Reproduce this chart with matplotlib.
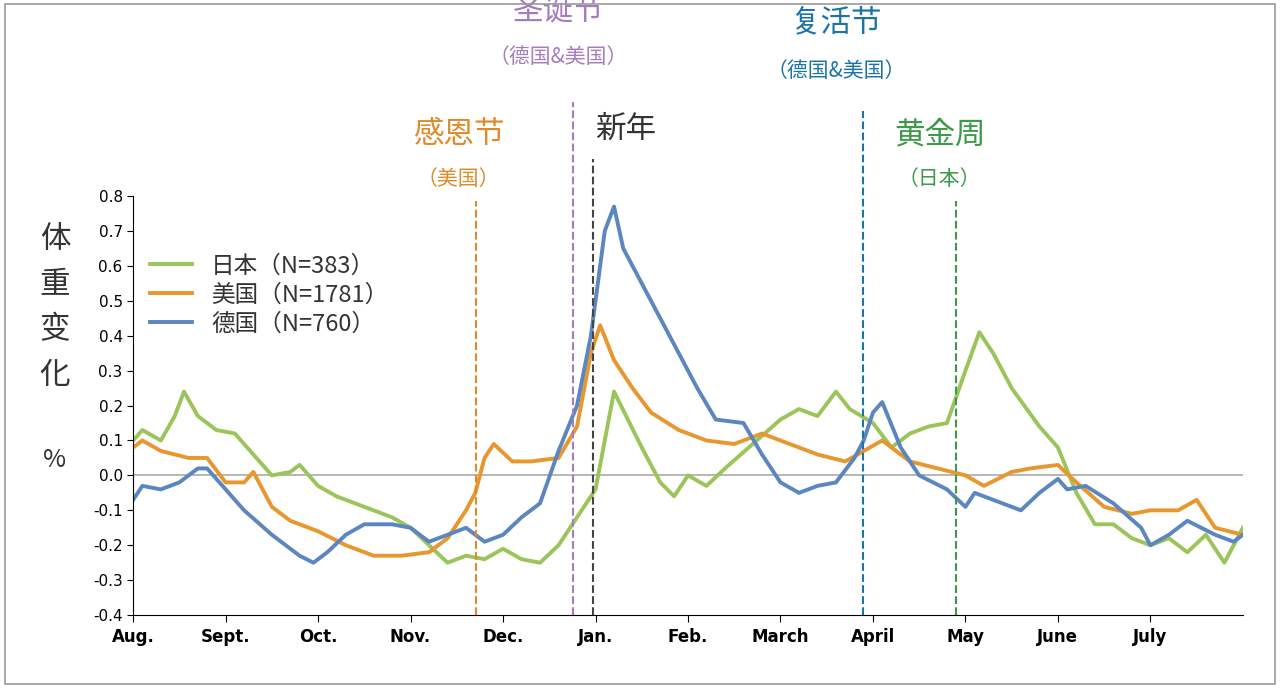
import matplotlib
matplotlib.use("Agg")
import matplotlib.pyplot as plt
from matplotlib.patches import Rectangle
from matplotlib import font_manager

names = sorted({f.name for f in font_manager.fontManager.ttflist})
cjk = [n for n in ['Noto Sans CJK SC', 'Noto Sans CJK JP', 'Noto Sans CJK TC', 'Noto Sans CJK KR'] if n in names]
if not cjk:
    cjk = [n for n in names if 'CJK' in n]
plt.rcParams['font.family'] = 'sans-serif'
plt.rcParams['font.sans-serif'] = cjk + ['DejaVu Sans']

months = ["Aug.", "Sept.", "Oct.", "Nov.", "Dec.", "Jan.", "Feb.", "March", "April", "May", "June", "July"]
yticks = [-0.4, -0.3, -0.2, -0.1, 0.0, 0.1, 0.2, 0.3, 0.4, 0.5, 0.6, 0.7, 0.8]

jp_x = [0,0.1,0.3,0.45,0.55,0.7,0.9,1.1,1.3,1.5,1.7,1.8,2.0,2.2,2.5,2.8,3.0,3.2,3.4,3.6,3.8,4.0,4.2,4.4,4.6,4.8,5.0,5.1,5.2,5.35,5.5,5.7,5.85,6.0,6.2,6.4,6.7,7.0,7.2,7.4,7.6,7.75,8.0,8.2,8.4,8.6,8.8,9.0,9.15,9.3,9.5,9.8,10.0,10.2,10.4,10.6,10.8,11.0,11.2,11.4,11.6,11.8,12.0]
jp_y = [0.10,0.13,0.10,0.17,0.24,0.17,0.13,0.12,0.06,0.00,0.01,0.03,-0.03,-0.06,-0.09,-0.12,-0.15,-0.20,-0.25,-0.23,-0.24,-0.21,-0.24,-0.25,-0.20,-0.12,-0.04,0.10,0.24,0.16,0.08,-0.02,-0.06,0.0,-0.03,0.02,0.09,0.16,0.19,0.17,0.24,0.19,0.15,0.08,0.12,0.14,0.15,0.30,0.41,0.35,0.25,0.14,0.08,-0.05,-0.14,-0.14,-0.18,-0.20,-0.18,-0.22,-0.17,-0.25,-0.15]

us_x = [0,0.1,0.3,0.6,0.8,1.0,1.2,1.3,1.5,1.7,2.0,2.3,2.6,2.9,3.2,3.4,3.6,3.7,3.8,3.9,4.1,4.3,4.6,4.8,4.95,5.05,5.2,5.4,5.6,5.9,6.2,6.5,6.8,7.1,7.4,7.7,7.9,8.1,8.4,8.7,9.0,9.2,9.5,9.7,10.0,10.2,10.5,10.8,11.0,11.3,11.5,11.7,12.0]
us_y = [0.08,0.10,0.07,0.05,0.05,-0.02,-0.02,0.01,-0.09,-0.13,-0.16,-0.20,-0.23,-0.23,-0.22,-0.18,-0.10,-0.05,0.05,0.09,0.04,0.04,0.05,0.14,0.35,0.43,0.33,0.25,0.18,0.13,0.10,0.09,0.12,0.09,0.06,0.04,0.07,0.10,0.04,0.02,0.0,-0.03,0.01,0.02,0.03,-0.02,-0.09,-0.11,-0.10,-0.10,-0.07,-0.15,-0.17]

de_x = [0,0.1,0.3,0.5,0.7,0.8,1.0,1.2,1.5,1.8,1.95,2.1,2.3,2.5,2.8,3.0,3.2,3.4,3.6,3.8,4.0,4.2,4.4,4.6,4.8,4.95,5.1,5.2,5.3,5.5,5.8,6.1,6.3,6.6,6.8,7.0,7.2,7.4,7.6,7.8,7.9,8.0,8.1,8.3,8.5,8.8,9.0,9.1,9.4,9.6,9.8,10.0,10.1,10.3,10.6,10.9,11.0,11.2,11.4,11.7,11.9,12.0]
de_y = [-0.07,-0.03,-0.04,-0.02,0.02,0.02,-0.04,-0.10,-0.17,-0.23,-0.25,-0.22,-0.17,-0.14,-0.14,-0.15,-0.19,-0.17,-0.15,-0.19,-0.17,-0.12,-0.08,0.07,0.20,0.40,0.70,0.77,0.65,0.55,0.40,0.25,0.16,0.15,0.06,-0.02,-0.05,-0.03,-0.02,0.05,0.10,0.18,0.21,0.08,0.00,-0.04,-0.09,-0.05,-0.08,-0.10,-0.05,-0.01,-0.04,-0.03,-0.08,-0.15,-0.20,-0.17,-0.13,-0.17,-0.19,-0.17]

fig = plt.figure(figsize=(12.8, 6.88), dpi=100)
fig.patches.append(Rectangle((0.004, 0.006), 0.992, 0.988, transform=fig.transFigure,
                             fill=False, edgecolor='#999999', lw=1.2))
ax = fig.add_axes([0.104, 0.106, 0.867, 0.609])
ax.set_xlim(0, 12)
ax.set_ylim(-0.4, 0.8)
ax.axhline(0, color='#aaaaaa', lw=1.2)
ax.plot(jp_x, jp_y, color='#9bc55a', lw=2.8, label='日本（N=383）')
ax.plot(us_x, us_y, color='#e8962e', lw=2.8, label='美国（N=1781）')
ax.plot(de_x, de_y, color='#5b86c0', lw=2.8, label='德国（N=760）')

def top(ypix):
    return 0.8 + (196 - ypix) / 349 * 1.2

events = [
    (3.71, '#e08a28', 200, '感恩节', '（美国）', 145, 182, 3.52),
    (4.76, '#a57cbf', 118, '圣诞节', '（德国&美国）', 42, 80, 4.6),
    (8.9, '#3c9a4a', 200, '黄金周', '（日本）', 145, 182, 8.72),
]
for x, c, yp, t1, t2, y1, y2, tx in events:
    ax.plot([x, x], [-0.4, top(yp)], ls='--', color=c, lw=1.5, clip_on=False)
    ax.text(tx, top(y1), t1, color=c, fontsize=22, ha='center', va='center')
    ax.text(tx, top(y2), t2, color=c, fontsize=15, ha='center', va='center')
ax.plot([4.97, 4.97], [-0.4, top(165)], ls='--', color='#444444', lw=1.5, clip_on=False)
ax.text(5.0, top(140), '新年', color='#333333', fontsize=22, ha='left', va='center')
ax.plot([7.89, 7.89], [-0.4, top(125)], ls='--', color='#1a74a8', lw=1.5, clip_on=False)
ax.text(7.6, top(52), '复活节', color='#1a74a8', fontsize=22, ha='center', va='center')
ax.text(7.6, top(92), '（德国&美国）', color='#1a74a8', fontsize=15, ha='center', va='center')

ax.set_xticks(range(12))
ax.set_xticklabels(months, fontsize=12, fontweight='bold', fontfamily='DejaVu Sans')
ax.set_yticks(yticks)
ax.set_yticklabels([f"{v:.1f}" for v in yticks], fontsize=11, fontfamily='DejaVu Sans')
ax.tick_params(axis='x', length=5, pad=4)
ax.tick_params(axis='y', length=4)
for s in ['top', 'right']:
    ax.spines[s].set_visible(False)

for i, ch in enumerate('体重变化'):
    fig.text(55/1280, 1 - (240 + i*45)/688, ch, fontsize=22, ha='center', va='center', color='#333333')
fig.text(55/1280, 1 - 460/688, '%', fontsize=18, ha='center', va='center', color='#333333')

leg = ax.legend(loc='upper left', bbox_to_anchor=(0.0, 0.9), frameon=False, fontsize=17,
                handlelength=1.8, labelspacing=0.25, borderaxespad=0.3)
for t in leg.get_texts():
    t.set_color('#333333')

fig.savefig('out.png', dpi=100)
